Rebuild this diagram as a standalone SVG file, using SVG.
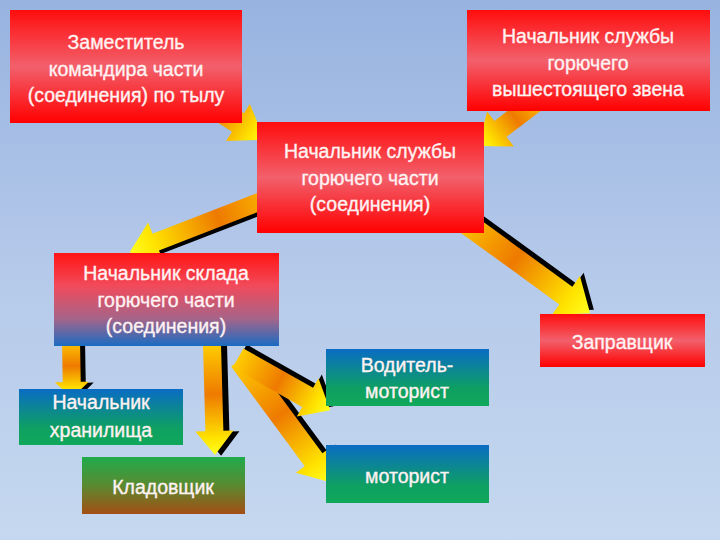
<svg xmlns="http://www.w3.org/2000/svg" width="720" height="540" viewBox="0 0 720 540">
<defs>
<linearGradient id="bg" x1="0" y1="0" x2="0" y2="1">
<stop offset="0" stop-color="#97b3e0"/><stop offset="0.5" stop-color="#b5c9ea"/><stop offset="1" stop-color="#c5d8ef"/>
</linearGradient>
<linearGradient id="red" x1="0" y1="0" x2="0" y2="1">
<stop offset="0" stop-color="#ff0d0d"/><stop offset="0.5" stop-color="#f2606c"/><stop offset="1" stop-color="#ff0000"/>
</linearGradient>
<linearGradient id="redblue" x1="0" y1="0" x2="0" y2="1">
<stop offset="0" stop-color="#ff1414"/><stop offset="0.35" stop-color="#f24a5a"/><stop offset="0.7" stop-color="#a86488"/><stop offset="1" stop-color="#1a6cc2"/>
</linearGradient>
<linearGradient id="bluegreen" x1="0" y1="0" x2="0" y2="1">
<stop offset="0" stop-color="#0a6cc4"/><stop offset="0.7" stop-color="#0ea062"/><stop offset="1" stop-color="#10a85a"/>
</linearGradient>
<linearGradient id="greenbrown" x1="0" y1="0" x2="0" y2="1">
<stop offset="0" stop-color="#1fab4c"/><stop offset="0.5" stop-color="#5a8a30"/><stop offset="1" stop-color="#a44e14"/>
</linearGradient>
<linearGradient id="arr" x1="0" y1="0" x2="1" y2="0">
<stop offset="0" stop-color="#ffcc00"/><stop offset="0.45" stop-color="#ee7a00"/><stop offset="0.85" stop-color="#ffe400"/><stop offset="1" stop-color="#ffff20"/>
</linearGradient>
<style>
.box{stroke:none}
.red{fill:url(#red)}
.rb{fill:url(#redblue)}
.bg2{fill:url(#bluegreen)}
.gb{fill:url(#greenbrown)}
.t{font-family:"Liberation Sans",Arial,sans-serif;font-size:19.5px;fill:#fff2f2;stroke:#fff2f2;stroke-width:0.35px;text-anchor:middle}
.a{fill:url(#arr)}
.s{fill:#000}
</style>
</defs>
<rect width="720" height="540" fill="url(#bg)"/>

<g id="connectors">
<!-- A1 -->
<g transform="translate(180,85) rotate(32.9)">
<polygon class="a" points="0,-11 69,-11 69,-22 101,0 69,22 69,11 0,11"/>
</g>
<!-- A2 -->
<g transform="translate(545,95) rotate(142.7)">
<polygon class="a" points="0,-10 56,-10 56,-22 84,0 56,22 56,10 0,10"/>
</g>
<!-- A3 -->
<g transform="translate(290,190) rotate(158.8)">
<polygon class="s" transform="translate(1,-4)" points="0,-9 144,-9 144,-21 172,0 144,21 144,9 0,9"/>
<polygon class="a" points="0,-9 144,-9 144,-21 172,0 144,21 144,9 0,9"/>
</g>
<!-- A4 -->
<g transform="translate(455,215) rotate(36)">
<polygon class="s" transform="translate(1,-5)" points="0,-11 137,-11 137,-24 167,0 137,24 137,11 0,11"/>
<polygon class="a" points="0,-11 137,-11 137,-24 167,0 137,24 137,11 0,11"/>
</g>
<!-- A5 -->
<g transform="translate(71,340) rotate(89)">
<polygon class="s" transform="translate(1,-5)" points="0,-9 42,-9 42,-17 58,0 42,17 42,9 0,9"/>
<polygon class="a" points="0,-9 42,-9 42,-17 58,0 42,17 42,9 0,9"/>
</g>
<!-- A6 -->
<g transform="translate(212,345) rotate(88.4)">
<polygon class="s" transform="translate(1,-6)" points="0,-9 86,-9 86,-19 110,0 86,19 86,9 0,9"/>
<polygon class="a" points="0,-9 86,-9 86,-19 110,0 86,19 86,9 0,9"/>
</g>
<!-- A8 -->
<g transform="translate(240,360) rotate(53.6)">
<polygon class="s" transform="translate(1,-5)" points="0,-11 124,-11 124,-22 152,0 124,22 124,11 0,11"/>
<polygon class="a" points="0,-11 124,-11 124,-22 152,0 124,22 124,11 0,11"/>
</g>
<!-- A7 -->
<g transform="translate(238,358) rotate(29.5)">
<polygon class="s" transform="translate(1,-5)" points="0,-11 80,-11 80,-22 106,0 80,22 80,11 0,11"/>
<polygon class="a" points="0,-11 80,-11 80,-22 106,0 80,22 80,11 0,11"/>
</g>
</g>

<g id="n1">
<rect class="box red" x="10" y="10" width="232" height="113"/>
<text class="t" x="126" y="49">Заместитель</text>
<text class="t" x="126" y="75.5">командира части</text>
<text class="t" x="126" y="102">(соединения) по тылу</text>
</g>
<g id="n2">
<rect class="box red" x="467" y="10" width="243" height="101"/>
<text class="t" x="588" y="43">Начальник службы</text>
<text class="t" x="588" y="69.5">горючего</text>
<text class="t" x="588" y="96">вышестоящего звена</text>
</g>
<g id="n3">
<rect class="box red" x="257" y="122" width="227" height="111"/>
<text class="t" x="370" y="158">Начальник службы</text>
<text class="t" x="370" y="184.5">горючего части</text>
<text class="t" x="370" y="211">(соединения)</text>
</g>
<g id="n4">
<rect class="box rb" x="54" y="253" width="225" height="93"/>
<text class="t" x="166" y="280">Начальник склада</text>
<text class="t" x="166" y="306.5">горючего части</text>
<text class="t" x="166" y="333">(соединения)</text>
</g>
<g id="n5">
<rect class="box bg2" x="19" y="389" width="164" height="56"/>
<text class="t" x="101" y="409">Начальник</text>
<text class="t" x="101" y="437">хранилища</text>
</g>
<g id="n6">
<rect class="box gb" x="82" y="457" width="163" height="57"/>
<text class="t" x="163" y="494">Кладовщик</text>
</g>
<g id="n7">
<rect class="box bg2" x="326" y="349" width="163" height="57"/>
<text class="t" x="407" y="372">Водитель-</text>
<text class="t" x="407" y="398">моторист</text>
</g>
<g id="n8">
<rect class="box bg2" x="326" y="445" width="163" height="58"/>
<text class="t" x="407" y="483">моторист</text>
</g>
<g id="n9">
<rect class="box red" x="540" y="314" width="165" height="53"/>
<text class="t" x="622" y="349">Заправщик</text>
</g>
</svg>
